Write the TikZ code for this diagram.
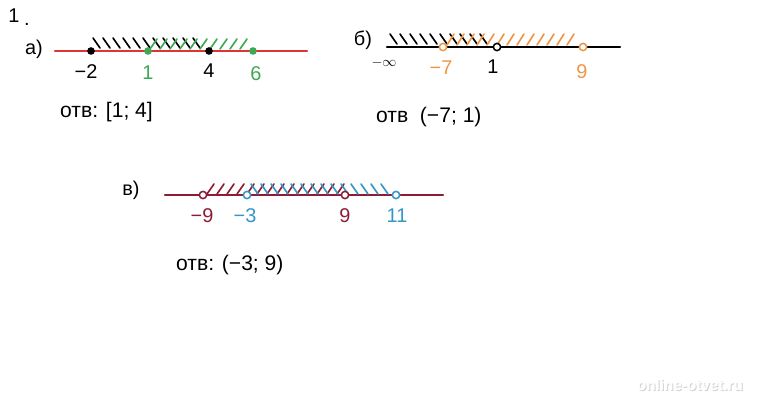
\documentclass[tikz,border=0pt]{standalone}
\usepackage{fontspec}
\setmainfont{Liberation Sans}
\definecolor{linered}{RGB}{222,52,52}
\definecolor{markgreen}{RGB}{62,168,82}
\definecolor{markorange}{RGB}{236,150,72}
\definecolor{lineplum}{RGB}{140,28,52}
\definecolor{markblue}{RGB}{52,150,200}
\begin{document}
\begin{tikzpicture}[x=0.03cm,y=-0.03cm,line cap=round,
    axis/.style={line width=2pt},
    hatch/.style={line width=1.4pt},
    closedpt/.style={circle,fill=#1,inner sep=2.3pt},
    openpt/.style={circle,draw=#1,fill=white,line width=1.3pt,inner sep=2.2pt},
    lbl/.style={font=\fontsize{17}{20}\selectfont},
    answ/.style={font=\fontsize{18}{22}\selectfont,anchor=west}]
        \useasboundingbox (0,0) rectangle (762,400);
        \node (num) at (14,16) [lbl] {1};
        \node (numdot) at (27,24) [lbl] {.};
        % a)
        \node (parta) at (34,49) [lbl] {a)};
        \draw[axis,color=linered] (55,51) -- (307,51);
        \foreach \x in {93,103,...,200} \draw[hatch] (\x,38) -- (\x+7,48);
        \foreach \x in {150,160,...,244} \draw[hatch,color=markgreen] (\x,49) -- (\x+7,39);
        \node (am2) at (91,51) [closedpt=black]{};
        \node (ap1) at (148,51) [closedpt=markgreen]{};
        \node (ap4) at (209,51) [closedpt=black]{};
        \node (ap6) at (253,51) [closedpt=markgreen]{};
        \node at (86,72) [lbl]{−2};
        \node at (148,73) [lbl,markgreen]{1};
        \node at (209,71) [lbl]{4};
        \node at (256,74) [lbl,markgreen]{6};
        \node (ansa) at (56,112) [answ]{отв: [1; 4]};
        % b)
        \node (partb) at (363,40) [lbl] {б)};
        \draw[axis] (387,47) -- (620,47);
        \foreach \x in {390,400,...,486} \draw[hatch] (\x,34) -- (\x+7,44);
        \foreach \x in {447,457,...,574} \draw[hatch,color=markorange] (\x,45) -- (\x+7,34);
        \node (bm7) at (443,47) [openpt=markorange]{};
        \node (bp1) at (497,47) [openpt=black]{};
        \node (bp9) at (583,47) [openpt=markorange]{};
        \node at (384,63) [font=\fontsize{13}{15}\selectfont]{$-\infty$};
        \node at (441,68) [lbl,markorange]{−7};
        \node at (493,67) [lbl]{1};
        \node at (582,72) [lbl,markorange]{9};
        \node (ansb) at (372,117) [answ]{отв \ (−7; 1)};
        % v)
        \node (partv) at (131,190) [lbl] {в)};
        \draw[axis,color=lineplum] (165,195) -- (443,195);
        \foreach \x in {207,217,...,337} \draw[hatch,color=lineplum] (\x,194) -- (\x+7,184);
        \foreach \x in {251,261,...,387} \draw[hatch,color=markblue] (\x,184) -- (\x+7,194);
        \node (vm9) at (203,195) [openpt=lineplum]{};
        \node (vm3) at (247,195) [openpt=markblue]{};
        \node (vp9) at (345,195) [openpt=lineplum]{};
        \node (vp11) at (396,195) [openpt=markblue]{};
        \node at (202,216) [lbl,lineplum]{−9};
        \node at (245,216) [lbl,markblue]{−3};
        \node at (345,216) [lbl,lineplum]{9};
        \node at (397,216) [lbl,markblue]{11};
        \node (ansv) at (172,265) [answ]{отв: (−3; 9)};
        % mark
        \node (wmshadow) at (691,386) [font=\bfseries\fontsize{13}{15}\selectfont,gray!35]{online-otvet.ru};
        \node (wm) at (690,385) [font=\bfseries\fontsize{13}{15}\selectfont,white]{online-otvet.ru};
\end{tikzpicture}
\end{document}
